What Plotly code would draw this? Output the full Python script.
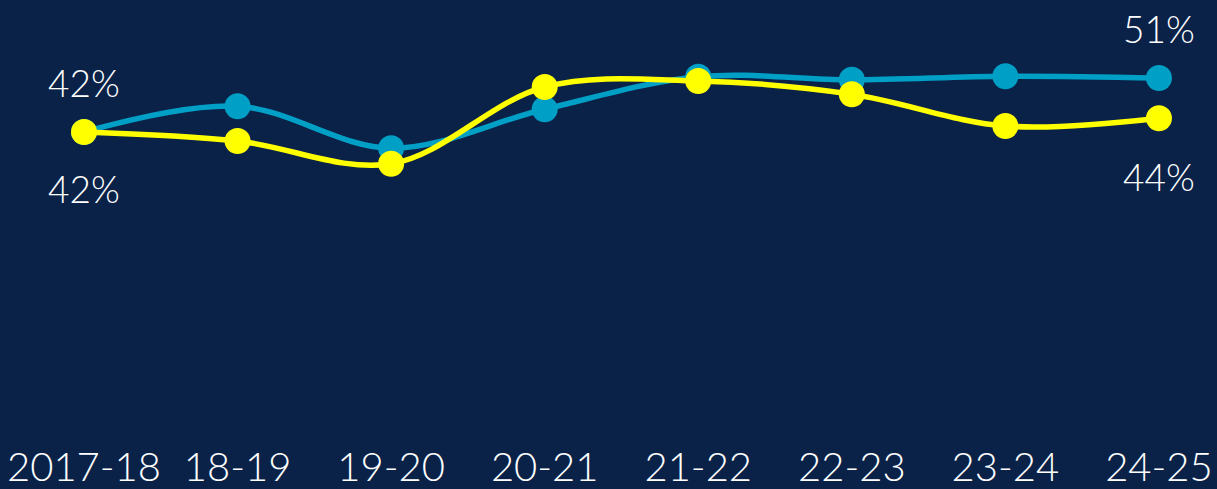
import plotly.graph_objects as go

# School years shown along the bottom
years = ["2017-18", "18-19", "19-20", "20-21", "21-22", "22-23", "23-24", "24-25"]

# Percentage series (blue and yellow)
blue_values = [42, 46.3, 39.3, 45.8, 51.2, 50.7, 51.3, 51.0]
yellow_values = [42, 40.5, 36.7, 49.5, 50.5, 48.3, 43.0, 44.3]

# Labelled end points
blue_start_label, blue_end_label = "42%", "51%"
yellow_start_label, yellow_end_label = "42%", "44%"

BG = "#0a2248"
BLUE = "#009fc6"
YELLOW = "#ffff00"

x_idx = list(range(len(years)))

fig = go.Figure()
fig.add_trace(go.Scatter(
    x=x_idx, y=blue_values, mode="lines+markers",
    line=dict(color=BLUE, width=5.5, shape="spline", smoothing=1),
    marker=dict(color=BLUE, size=26),
    hoverinfo="skip", showlegend=False,
))
fig.add_trace(go.Scatter(
    x=x_idx, y=yellow_values, mode="lines+markers",
    line=dict(color=YELLOW, width=5.5, shape="spline", smoothing=1),
    marker=dict(color=YELLOW, size=26),
    hoverinfo="skip", showlegend=False,
))

label_font = dict(family="Lato, 'Open Sans', sans-serif", size=37, color="white", weight=300)
for xi, yv, txt, shift in [
    (0, blue_values[0], blue_start_label, 50),
    (0, yellow_values[0], yellow_start_label, -56),
    (len(years) - 1, blue_values[-1], blue_end_label, 50),
    (len(years) - 1, yellow_values[-1], yellow_end_label, -58),
]:
    fig.add_annotation(x=xi, y=yv, text=txt, showarrow=False,
                       yshift=shift, font=label_font)

fig.update_layout(
    width=1217, height=489,
    paper_bgcolor=BG, plot_bgcolor=BG,
    margin=dict(l=0, r=0, t=0, b=60),
    xaxis=dict(
        range=[-0.547, 7.378], tickvals=x_idx, ticktext=years,
        showgrid=False, zeroline=False, showline=False, ticks="",
        automargin=False, ticklabeloverflow="allow", ticklabelstandoff=11,
        tickfont=dict(family="Lato, sans-serif", size=40, color="white", weight=300),
    ),
    yaxis=dict(range=[-7.5, 64], visible=False, showgrid=False, zeroline=False),
)

fig.write_html("out.html")
